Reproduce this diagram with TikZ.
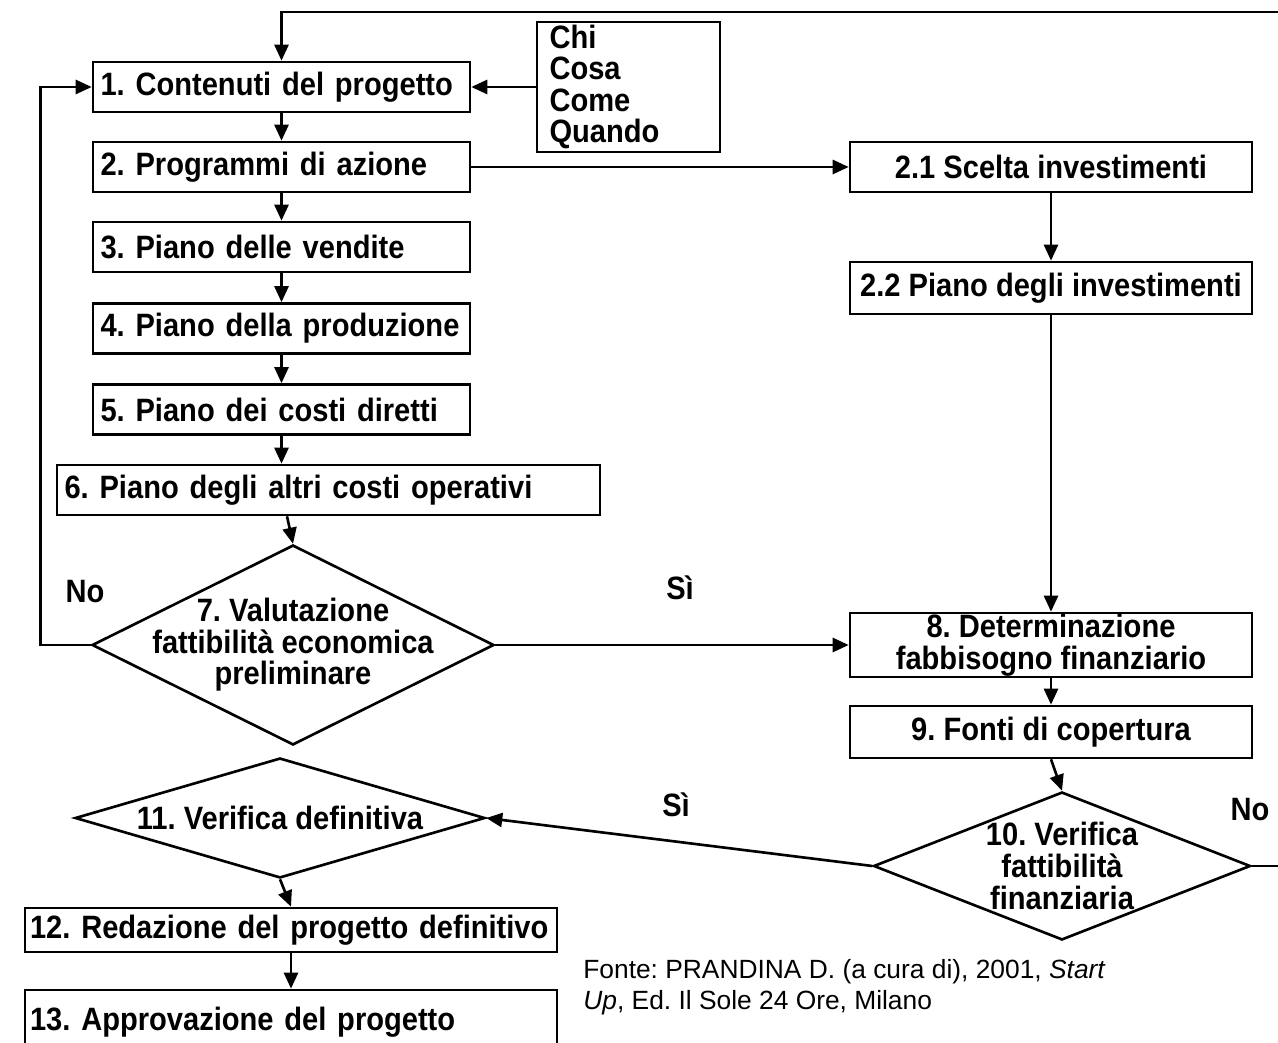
\documentclass[tikz,border=0pt]{standalone}
\usepackage{fontspec}
\setmainfont{Liberation Sans}
\newfontfamily\boxface{Liberation Sans}[FakeStretch=0.9]
\usetikzlibrary{shapes.geometric,arrows.meta}
\newcommand{\boxfont}{\boxface\bfseries\fontsize{18.4}{18}\selectfont}
\frenchspacing
\begin{document}
\begin{tikzpicture}[x=0.02cm, y=-0.02cm,
    box/.style={draw, line width=1.5pt, font=\boxfont, inner sep=0pt, minimum height=1cm},
    lbox/.style={box, align=left, inner xsep=0.15cm, text width=#1},
    cbox/.style={box, align=center, minimum width=8.04cm},
    dec/.style={draw, diamond, line width=1.5pt, inner sep=0pt},
    lab/.style={font=\boxfont, align=center, inner sep=0pt},
    arr/.style={line width=1.5pt, -{Triangle[length=0.32cm,width=0.28cm]}}]
    \useasboundingbox (0,0) rectangle (1278,1043);
    \node[lbox=7.24cm] (b1) at (281.5,87) {1. Contenuti del progetto};
    \node[lbox=3.16cm, inner xsep=0.25cm, minimum height=2.6cm] (chi) at (628.5,87) {Chi\\Cosa\\Come\\Quando};
    \node[lbox=7.24cm] (b2) at (281.5,167) {2. Programmi di azione};
    \node[cbox] (b21) at (1051,167) {2.1 Scelta investimenti};
    \node[lbox=7.24cm] (b3) at (281.5,247) {3. Piano delle vendite};
    \node[cbox, minimum height=1.04cm] (b22) at (1051,288) {2.2 Piano degli investimenti};
    \node[lbox=7.24cm] (b4) at (281.5,328.5) {4. Piano della produzione};
    \node[lbox=7.24cm] (b5) at (281.5,409.5) {5. Piano dei costi diretti};
    \node[lbox=10.56cm] (b6) at (328.5,490) {6. Piano degli altri costi operativi};
    \node[dec, minimum width=8.04cm, minimum height=4cm] (d7) at (293,645) {};
    \node[lab] (d7t) at (d7) {7. Valutazione\\fattibilità economica\\preliminare};
    \node[cbox, minimum height=1.28cm] (b8) at (1051,645) {8. Determinazione\\fabbisogno finanziario};
    \node[cbox, minimum height=1.04cm] (b9) at (1051,732) {9. Fonti di copertura};
    \node[dec, minimum width=7.54cm, minimum height=2.96cm] (d10) at (1062,866) {};
    \node[lab] (d10t) at (d10) {10. Verifica\\fattibilità\\finanziaria};
    \node[dec, minimum width=8.2cm, minimum height=2.4cm] (d11) at (280,818) {};
    \node[lab] (d11t) at (d11) {11. Verifica definitiva};
    \node[lbox=10.44cm, inner xsep=0.1cm, minimum height=0.88cm] (b12) at (291,930) {12. Redazione del progetto definitivo};
    \node[lbox=10.44cm, inner xsep=0.1cm, minimum height=1.28cm] (b13) at (291,1022) {13. Approvazione del progetto};
    \node[lab] (no7) at (85,592) {No};
    \node[lab] (si7) at (680,588) {Sì};
    \node[lab] (si10) at (676,805) {Sì};
    \node[lab] (no10) at (1250,810) {No};
    \node[anchor=north west, align=left, inner sep=0pt, font=\fontsize{15}{17.5}\selectfont] (src) at (583,959) {Fonte: PRANDINA D. (a cura di), 2001, \textit{Start}\\\textit{Up}, Ed. Il Sole 24 Ore, Milano};
    \coordinate (ret) at (1290,12);
    \draw[arr] (chi) -- (b1);
    \draw[arr] (b1) -- (b2);
    \draw[arr] (b2) -- (b3);
    \draw[arr] (b3) -- (b4);
    \draw[arr] (b4) -- (b5);
    \draw[arr] (b5) -- (b5 |- b6.north);
    \draw[arr] ([xshift=-0.83cm]b6.south) -- (d7.north);
    \draw[arr] (b2) -- (b21);
    \draw[arr] (b21) -- (b22);
    \draw[arr] (b22) -- (b8);
    \draw[arr] (b8) -- (b9);
    \draw[arr] (b9.south) -- (d10.north);
    \draw[arr] (d7.east) -- (b8.west);
    \draw[arr] (d7.west) -- ++(-50,0) |- (b1.west);
    \draw[arr] (d10.west) -- (d11.east);
    \draw[arr] (d10.east) -| (ret) -| (b1.north);
    \draw[arr] (d11.south) -- (b12.north);
    \draw[arr] (b12) -- (b13);
\end{tikzpicture}
\end{document}
